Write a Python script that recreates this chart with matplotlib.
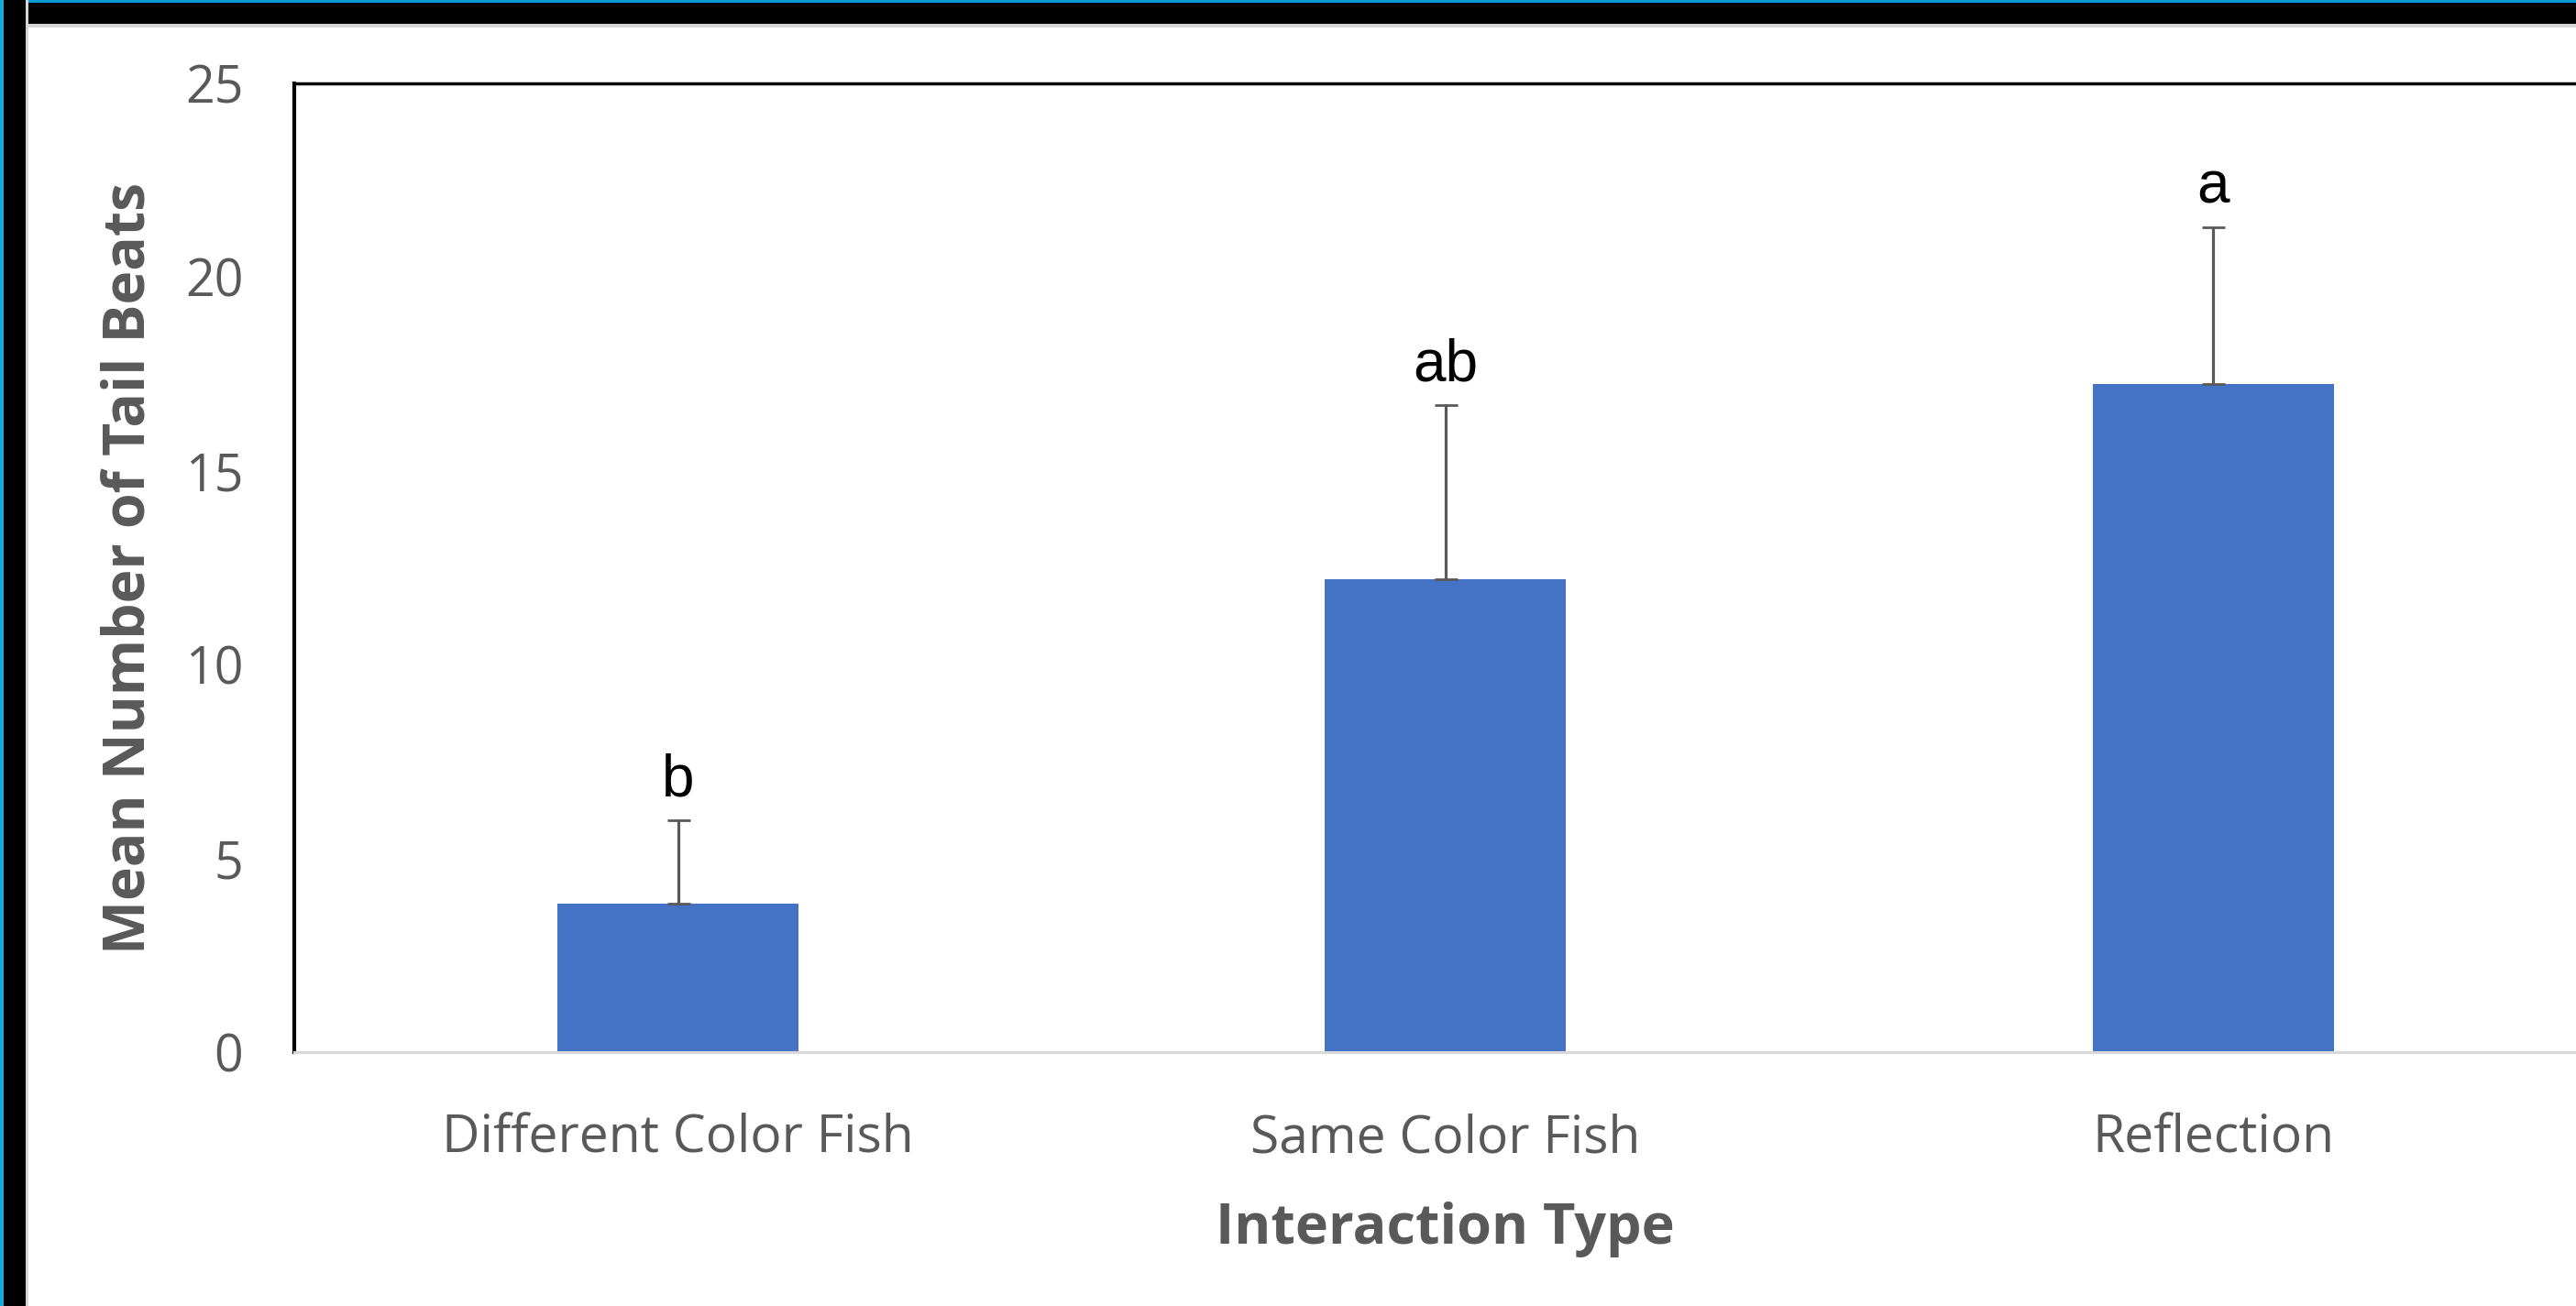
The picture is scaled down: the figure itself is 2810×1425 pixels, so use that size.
import matplotlib
matplotlib.use("Agg")
import matplotlib.pyplot as plt
from matplotlib.patches import Rectangle

categories = ["Different Color Fish", "Same Color Fish", "Reflection"]
means = [3.83, 12.2, 17.24]
errors = [2.15, 4.5, 4.05]
letters = ["b", "ab", "a"]
yticks = [0, 5, 10, 15, 20, 25]

W, H, DPI = 2810, 1425, 100
fig = plt.figure(figsize=(W / DPI, H / DPI), dpi=DPI)
fig.patch.set_facecolor("white")

# window-like border (top and left)
fig.patches.append(Rectangle((0, 1 - 30 / H), 1, 30 / H, transform=fig.transFigure,
                             facecolor="#d6d6d6", edgecolor="none", zorder=0))
fig.patches.append(Rectangle((0, 1 - 26 / H), 1, 26 / H, transform=fig.transFigure,
                             facecolor="black", edgecolor="none", zorder=0))
fig.patches.append(Rectangle((0, 1 - 3 / H), 1, 3 / H, transform=fig.transFigure,
                             facecolor="#0b9ad6", edgecolor="none", zorder=0))
fig.patches.append(Rectangle((0, 0), 31 / W, 1, transform=fig.transFigure,
                             facecolor="#d6d6d6", edgecolor="none", zorder=0))
fig.patches.append(Rectangle((0, 0), 28 / W, 1, transform=fig.transFigure,
                             facecolor="black", edgecolor="none", zorder=0))
fig.patches.append(Rectangle((0, 0), 4 / W, 1, transform=fig.transFigure,
                             facecolor="#1aaad8", edgecolor="none", zorder=0))

ax_left = 321 / W
ax_bottom = (H - 1148) / H
ax_top = (H - 91) / H
ax_width = 3 * 837.25 / W
ax = fig.add_axes([ax_left, ax_bottom, ax_width, ax_top - ax_bottom])

x = list(range(len(categories)))
ax.bar(x, means, width=0.314, color="#4472C4", zorder=2)
ax.errorbar(x, means, yerr=[[0] * len(errors), errors], fmt="none",
            ecolor="#595959", elinewidth=2.3, capsize=9, capthick=2.0, zorder=3)

for xi, m, e, lab in zip(x, means, errors, letters):
    ax.annotate(lab, xy=(xi, m + e), xytext=(0, 19), textcoords="offset points",
                ha="center", va="baseline", fontsize=46,
                family="Liberation Sans", color="black")

ax.set_xlim(-0.5, 2.5)
ax.set_ylim(0, 25)
ax.set_yticks(yticks)
ax.set_yticklabels([str(t) for t in yticks])
ax.set_xticks(x)
ax.set_xticklabels(categories)

for lab in ax.get_xticklabels():
    lab.set_family("Open Sans")
    lab.set_fontsize(41)
    lab.set_color("#595959")
for lab in ax.get_yticklabels():
    lab.set_family("Open Sans")
    lab.set_fontsize(40)
    lab.set_color("#595959")

ax.tick_params(axis="y", length=0, pad=40)
ax.tick_params(axis="x", length=0, pad=48)

ax.spines["left"].set_color("black")
ax.spines["left"].set_linewidth(3)
ax.spines["top"].set_color("black")
ax.spines["top"].set_linewidth(2.5)
ax.spines["right"].set_visible(False)
ax.spines["bottom"].set_color("#d9d9d9")
ax.spines["bottom"].set_linewidth(2.2)

ax.set_xlabel("Interaction Type", fontsize=44, fontweight="bold", color="#595959",
              family="Open Sans", labelpad=28)
ax.set_ylabel("Mean Number of Tail Beats", fontsize=45, fontweight="bold",
              color="#595959", family="Open Sans", labelpad=21)

fig.savefig("out.png", dpi=DPI)
